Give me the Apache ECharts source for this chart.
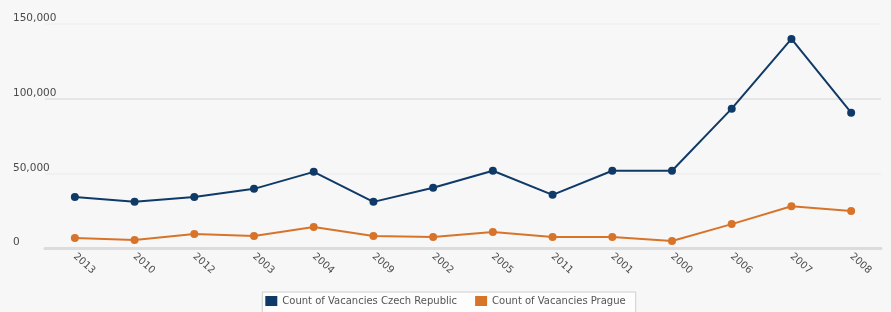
<!DOCTYPE html>
<html>
<head>
<meta charset="utf-8">
<script src="https://cdn.jsdelivr.net/npm/echarts@6/dist/echarts.min.js"></script>
<style>
  html, body { margin: 0; padding: 0; background: #f7f7f7; }
  #chart { width: 891px; height: 312px; }
</style>
</head>
<body>
<div id="chart"></div>
<script>
  const years = ['2013', '2010', '2012', '2003', '2004', '2009', '2002', '2005', '2011', '2001', '2000', '2006', '2007', '2008']
  const czech = [34200, 30900, 34200, 39600, 51000, 30900, 40300, 51700, 35600, 51700, 51700, 93300, 140000, 90600]
  const prague = [6700, 5400, 9400, 8000, 14000, 8000, 7400, 10700, 7400, 7400, 4700, 16000, 28000, 24800]
  const seriesNames = ['Count of Vacancies Czech Republic', 'Count of Vacancies Prague']

  const chart = echarts.init(document.getElementById('chart'))
  chart.setOption({
    backgroundColor: '#f7f7f7',
    animation: false,
    color: ['#0f3a68', '#d8742a'],
    textStyle: { fontFamily: 'DejaVu Sans' },
    legend: {
      data: seriesNames,
      top: 292,
      left: 'center',
      itemWidth: 12,
      itemHeight: 10,
      itemGap: 18,
      icon: 'rect',
      padding: [4, 10, 8, 3],
      borderColor: '#cfcfcf',
      borderWidth: 1,
      backgroundColor: '#fdfdfd',
      textStyle: { fontSize: 10, color: '#555' }
    },
    grid: { left: 45, right: 10, top: 24, bottom: 64 },
    xAxis: {
      type: 'category',
      data: years,
      boundaryGap: true,
      axisLine: { lineStyle: { color: '#dcdcdc', width: 3 } },
      axisTick: { show: false },
      axisLabel: { rotate: -42, color: '#4a4a4a', fontSize: 10, margin: 7 }
    },
    yAxis: {
      type: 'value',
      min: 0,
      max: 150000,
      interval: 50000,
      axisLine: { show: false },
      axisTick: { show: false },
      axisLabel: {
        align: 'left',
        margin: 32,
        verticalAlign: 'bottom',
        color: '#4a4a4a',
        fontSize: 10.5,
        formatter: v => v.toLocaleString('en-US')
      },
      splitLine: { lineStyle: { color: ['#f7f7f7', '#f1f1f1', '#e6e6e6', '#f2f2f2'], width: 2 } }
    },
    series: [
      {
        name: seriesNames[0],
        type: 'line',
        data: czech,
        symbol: 'circle',
        symbolSize: 8,
        lineStyle: { width: 2 }
      },
      {
        name: seriesNames[1],
        type: 'line',
        data: prague,
        symbol: 'circle',
        symbolSize: 8,
        lineStyle: { width: 2 }
      }
    ]
  })
</script>
</body>
</html>
